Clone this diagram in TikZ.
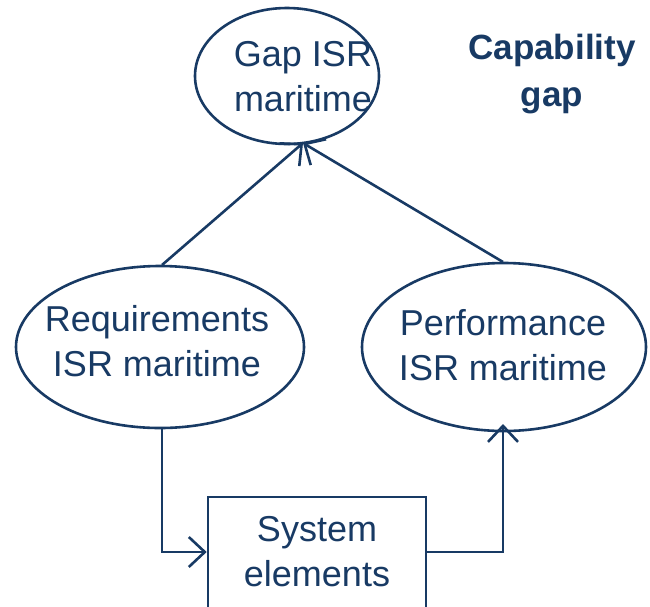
\documentclass[tikz,border=0pt]{standalone}
\usepackage{fontspec}
\setmainfont{Liberation Sans}
\usetikzlibrary{shapes.geometric,arrows.meta}
\definecolor{navy}{RGB}{24,58,100}
\begin{document}
\begin{tikzpicture}[x=1pt,y=-1pt,
  oval/.style={ellipse,draw=navy,line width=2.6pt,inner sep=0pt},
  txt/.style={text=navy,align=center,font=\fontsize{36}{45}\selectfont,inner sep=0pt},
  conn/.style={draw=navy,line width=2.6pt,-{Straight Barb[length=16pt,width=30pt]}}]
\useasboundingbox (0,0) rectangle (650,606);
\clip (0,0) rectangle (650,606);
\node[oval,minimum width=184pt,minimum height=136pt] (gap) at (287,76) {};
\node[txt] (gapt) at (303,77) {Gap ISR\\maritime};
\node[oval,minimum width=288pt,minimum height=162pt] (req) at (160,347) {};
\node[txt] (reqt) at (157,341) {Requirements\\ISR maritime};
\node[oval,minimum width=284pt,minimum height=168pt] (perf) at (504,347) {};
\node[txt] (perft) at (503,345) {Performance\\ISR maritime};
\node[draw=navy,line width=2.6pt,minimum width=218pt,minimum height=130pt,inner sep=0pt] (sys) at (317,562) {};
\node[txt] (syst) at (317,552) {System\\elements};
\node[txt,font=\fontsize{35}{47}\selectfont\bfseries] (cap) at (552,74) {Capability\\gap};
\coordinate (gapin) at (303,143);
\coordinate (reqtop) at (162,265);
\coordinate (perftop) at (503,262);
\coordinate (reqbot) at (162,428);
\coordinate (perfbot) at (503,424);
\draw[conn] (reqtop) -- (gapin);
\draw[conn] (perftop) -- (gapin);
\draw[conn] (reqbot) |- (sys.west |- 0,552);
\draw[conn] (sys.east |- 0,552) -| (perfbot);
\end{tikzpicture}
\end{document}
